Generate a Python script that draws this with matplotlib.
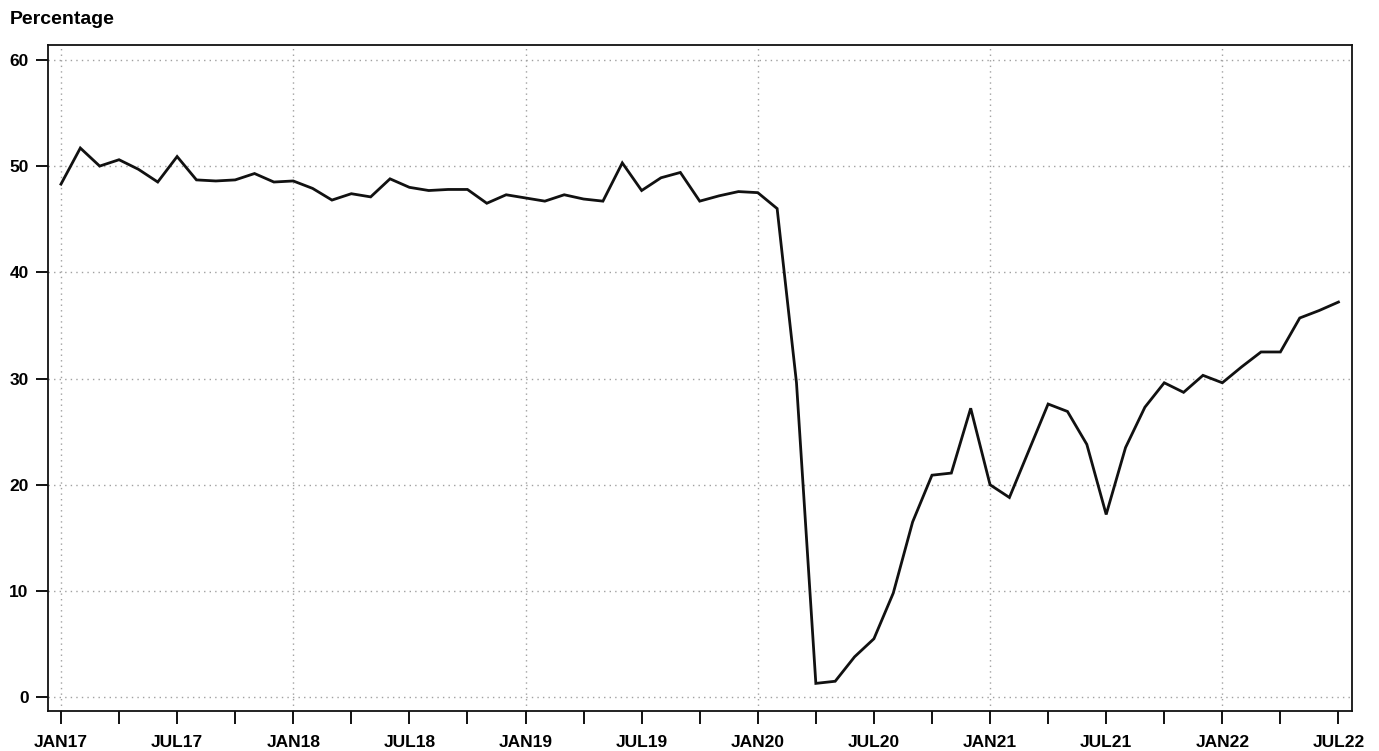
import matplotlib
matplotlib.use('Agg')
import numpy as np
import matplotlib.pyplot as plt

# monthly values, JAN17 .. JUL22
pct = [48.3, 51.7, 50.0, 50.6, 49.7, 48.5, 50.9, 48.7, 48.6, 48.7, 49.3, 48.5,   # 2017
       48.6, 47.9, 46.8, 47.4, 47.1, 48.8, 48.0, 47.7, 47.8, 47.8, 46.5, 47.3,   # 2018
       47.0, 46.7, 47.3, 46.9, 46.7, 50.3, 47.7, 48.9, 49.4, 46.7, 47.2, 47.6,   # 2019
       47.5, 46.0, 29.6, 1.3, 1.5, 3.8, 5.5, 9.8, 16.5, 20.9, 21.1, 27.2,        # 2020
       20.0, 18.8, 23.2, 27.6, 26.9, 23.8, 17.2, 23.5, 27.3, 29.6, 28.7, 30.3,   # 2021
       29.6, 31.1, 32.5, 32.5, 35.7, 36.4, 37.2]                                 # 2022

tick_pos = list(range(0, 67, 3))
tick_labels = ['JAN17', '', 'JUL17', '', 'JAN18', '', 'JUL18', '', 'JAN19', '', 'JUL19', '',
               'JAN20', '', 'JUL20', '', 'JAN21', '', 'JUL21', '', 'JAN22', '', 'JUL22']
jan_pos = [p for p, l in zip(tick_pos, tick_labels) if l.startswith('JAN')]
y_ticks = [0, 10, 20, 30, 40, 50, 60]

fnt = ['Liberation Sans Narrow', 'Arial', 'Liberation Sans', 'DejaVu Sans']
plt.rcParams['font.family'] = fnt

fig = plt.figure(figsize=(13.79, 7.51), dpi=100)
ax = fig.add_axes([48/1379, 1-711/751, (1352-48)/1379, (711-45)/751])

x = np.arange(len(pct))
ax.plot(x, pct, color='#111111', lw=2.0, solid_joinstyle='miter')

for jp in jan_pos:
    ax.axvline(jp, color='#a0a0a0', ls=(0, (1, 3)), lw=1, zorder=0)
for yt in y_ticks:
    ax.axhline(yt, color='#a0a0a0', ls=(0, (1, 3)), lw=1, zorder=0)

ax.set_xlim(-0.67, 66.7)
ax.set_ylim(-1.3, 61.4)
ax.set_xticks(tick_pos)
ax.set_xticklabels(tick_labels)
ax.set_yticks(y_ticks)
ax.tick_params(axis='both', direction='out', length=9, width=1.4, color='#111111',
               labelsize=12.5, pad=5)
ax.tick_params(axis='x', pad=8)
for lab in ax.get_xticklabels() + ax.get_yticklabels():
    lab.set_fontweight('bold')
for sp in ax.spines.values():
    sp.set_linewidth(1.3)
    sp.set_color('#111111')

fig.text(10/1379, 1-20/751, 'Percentage', fontsize=14, fontweight='bold',
         family=['Liberation Sans', 'DejaVu Sans'], va='center', ha='left')

fig.savefig('out.png', dpi=100)
